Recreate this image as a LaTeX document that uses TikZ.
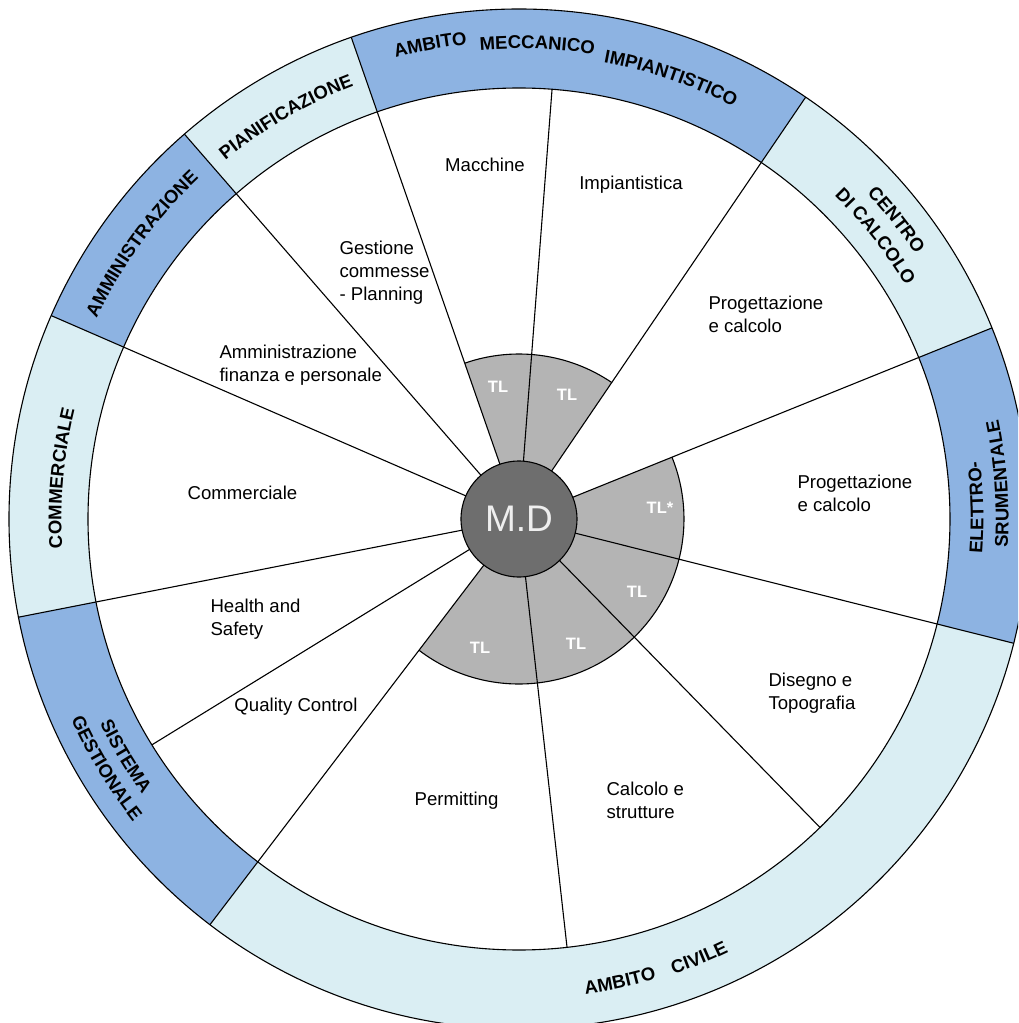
\documentclass[tikz,border=0pt]{standalone}
\usepackage{fontspec}
\setmainfont{Liberation Sans}
\usetikzlibrary{decorations.text}
\definecolor{bandDark}{RGB}{141,179,226}
\definecolor{bandLight}{RGB}{218,238,243}
\definecolor{tlGray}{RGB}{180,180,180}
\definecolor{mdGray}{RGB}{110,110,110}
\definecolor{mdText}{RGB}{238,238,238}
\newcommand\bandfont{\bfseries\fontsize{18.5}{18.5}\selectfont}
\newcommand\cwtext[3]{\path[decorate,decoration={text along path,text align=center,text={|\bandfont|#3}}] (#1+20:#2) arc[start angle=#1+20,end angle=#1-20,radius=#2];}
\newcommand\ccwtext[3]{\path[decorate,decoration={text along path,text align=center,text={|\bandfont|#3}}] (#1-20:#2) arc[start angle=#1-20,end angle=#1+20,radius=#2];}
\newcommand\bandsec[3]{\fill[#1] (#2:431) arc[start angle=#2,end angle=#3,radius=431] -- (#3:510) arc[start angle=#3,end angle=#2,radius=510] -- cycle;}
\tikzset{
  lbl/.style={inner sep=0pt,font=\fontsize{18.6}{23}\selectfont,text=black},
  tl/.style={inner sep=0pt,text=white,font=\bfseries\fontsize{16.5}{16.5}\selectfont},
  ring/.style={draw=black,line width=1.1pt},
}
\begin{document}
\begin{tikzpicture}[x=1pt,y=1pt,line width=1.1pt]
\useasboundingbox (-519,-504) rectangle (499,519);
\clip (-519,-504) rectangle (499,519);
\fill[white] (-519,-504) rectangle (499,519);
% band sectors
\bandsec{bandLight}{22}{55.8}
\bandsec{bandDark}{55.8}{109.2}
\bandsec{bandLight}{109.2}{131}
\bandsec{bandDark}{131}{156.5}
\bandsec{bandLight}{156.5}{191.1}
\bandsec{bandDark}{191.1}{232.7}
\bandsec{bandLight}{232.7}{345.9}
\bandsec{bandDark}{345.9}{382}
% inner disc
\fill[white] (0,0) circle[radius=431];
% gray TL sectors
\fill[tlGray] (0,0) -- (55.8:165) arc[start angle=55.8,end angle=109.2,radius=165] -- cycle;
\fill[tlGray] (0,0) -- (232.7:165) arc[start angle=232.7,end angle=382,radius=165] -- cycle;
\draw[ring] (55.8:165) arc[start angle=55.8,end angle=109.2,radius=165];
\draw[ring] (232.7:165) arc[start angle=232.7,end angle=382,radius=165];
% circles
\draw[ring] (0,0) circle[radius=431];
\draw[ring] (0,0) circle[radius=510];
% spokes
\foreach \a in {85.6,211.6,276.4,314.3} \draw (0,0) -- (\a:431);
\foreach \a in {22,55.8,109.2,131,156.5,191.1,232.7,345.9} \draw (0,0) -- (\a:510);
% centre
\node[circle,fill=mdGray,draw=black,line width=1.1pt,minimum size=116pt,inner sep=0pt,text=mdText,font=\fontsize{37}{37}\selectfont] (md) at (0,0) {M.D};
% TL labels
\node[tl] (tl1) at (-21,132) {TL};
\node[tl] (tl2) at (48,124) {TL};
\node[tl] (tl3) at (141,11) {TL*};
\node[tl] (tl4) at (118,-73) {TL};
\node[tl] (tl5) at (57,-125) {TL};
\node[tl] (tl6) at (-39,-129) {TL};
% sector labels
\node[lbl] (macc) at (-34,354) {Macchine};
\node[lbl] (impi) at (112,334) {Impiantistica};
\node[lbl,anchor=west,align=left] (gest) at (-180,246) {Gestione\\commesse\\- Planning};
\node[lbl,anchor=west,align=left] (ammi) at (-300,154) {Amministrazione\\finanza e personale};
\node[lbl] (comm) at (-276.5,26) {Commerciale};
\node[lbl,anchor=west,align=left] (prog1) at (189,204.5) {Progettazione\\e calcolo};
\node[lbl,anchor=west,align=left] (prog2) at (278,25.5) {Progettazione\\e calcolo};
\node[lbl,anchor=west,align=left] (hs) at (-309,-100.5) {Health and\\Safety};
\node[lbl] (qc) at (-223,-188) {Quality Control};
\node[lbl] (perm) at (-62.5,-282) {Permitting};
\node[lbl,anchor=west,align=left] (calc) at (87,-281.5) {Calcolo e\\strutture};
\node[lbl,anchor=west,align=left] (dise) at (249,-174) {Disegno e\\Topografia};
% band labels
\cwtext{100.6}{477.5}{AMBITO}
\cwtext{87.8}{470.5}{MECCANICO}
\cwtext{71}{464.5}{IMPIANTISTICO}
\cwtext{120.1}{463.5}{PIANIFICAZIONE}
\cwtext{143.9}{467.5}{AMMINISTRAZIONE}
\cwtext{174.9}{457.5}{COMMERCIALE}
\cwtext{38.4}{476.5}{CENTRO}
\cwtext{38.4}{451.5}{DI CALCOLO}
\ccwtext{282.3}{480}{AMBITO}
\ccwtext{292.3}{481}{CIVILE}
\ccwtext{211.1}{466.5}{SISTEMA}
\ccwtext{211.1}{490.5}{GESTIONALE}
\ccwtext{1.4}{464.5}{ELETTRO-}
\ccwtext{4.2}{489.5}{SRUMENTALE}
\end{tikzpicture}
\end{document}
